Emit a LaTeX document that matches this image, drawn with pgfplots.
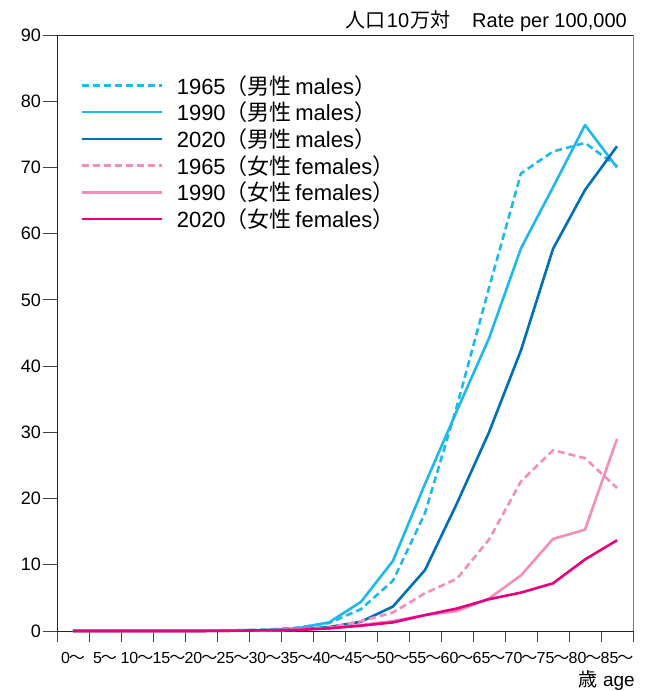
\documentclass[border=0pt]{standalone}
\usepackage{fontspec}
\setmainfont{Liberation Sans}
\newfontfamily\cjk{Noto Sans CJK JP}
\usepackage{pgfplots}
\pgfplotsset{compat=1.18}
\definecolor{cyanL}{RGB}{30,184,235}
\definecolor{blueD}{RGB}{0,110,184}
\definecolor{pinkL}{RGB}{243,142,187}
\definecolor{magentaD}{RGB}{230,0,126}
\newcommand{\tl}[1]{#1{\cjk\hspace{-1pt}～}}
\begin{document}
\begin{tikzpicture}
\path[use as bounding box] (-57pt,-60pt) rectangle (593pt,631pt);
\begin{axis}[
  scale only axis, width=576pt, height=596pt,
  xmin=-0.5, xmax=17.5, ymin=0, ymax=90,
  clip=false,
  xtick={0,...,17},
  xticklabels={\tl{0},\tl{5},\tl{10},\tl{15},\tl{20},\tl{25},\tl{30},\tl{35},\tl{40},\tl{45},\tl{50},\tl{55},\tl{60},\tl{65},\tl{70},\tl{75},\tl{80},\tl{85}},
  minor xtick={-0.5,0.5,...,17.5},
  ytick={0,10,...,90},
  tick align=outside, xtick pos=bottom, ytick pos=left,
  major x tick style={draw=none},
  minor tick length=11pt, major tick length=14pt,
  axis line style={line width=0.8pt, black!85},
  tick style={line width=0.8pt, black!75},
  /pgf/number format/assume math mode=true,
  yticklabel style={font=\fontsize{18}{18}\selectfont, inner sep=2pt},
  xticklabel style={font=\fontsize{16}{16}\selectfont, inner sep=0pt, anchor=base, yshift=-18pt},
  legend style={draw=none, fill=none, at={(rel axis cs:0,1)}, anchor=north west,
    xshift=23pt, yshift=-39pt, font=\fontsize{22}{22}\selectfont,
    row sep=4.4pt, inner sep=0pt, nodes={inner sep=1pt, anchor=west}},
  legend cell align=left,
  legend image code/.code={\draw[#1] (0pt,0pt) -- (80pt,0pt); \path (93pt,0pt);},
  every axis plot/.append style={line width=2.6pt, line join=round},
]
\addplot[cyanL, dash pattern=on 7pt off 4pt] coordinates {
(0,0.05)(1,0.05)(2,0.05)(3,0.05)(4,0.05)(5,0.1)(6,0.2)(7,0.5)(8,1.2)(9,3.3)(10,7.6)(11,17.8)(12,34.0)(13,51.8)(14,69.1)(15,72.4)(16,73.7)(17,70.2)};
\addlegendentry{1965{\cjk（男性}\,males{\cjk）}}
\addplot[cyanL] coordinates {
(0,0.05)(1,0.05)(2,0.05)(3,0.05)(4,0.05)(5,0.1)(6,0.15)(7,0.4)(8,1.3)(9,4.4)(10,10.6)(11,22.2)(12,33.3)(13,44.2)(14,57.8)(15,67.0)(16,76.4)(17,70.0)};
\addlegendentry{1990{\cjk（男性}\,males{\cjk）}}
\addplot[blueD] coordinates {
(0,0)(1,0)(2,0)(3,0)(4,0)(5,0.05)(6,0.1)(7,0.2)(8,0.6)(9,1.4)(10,3.7)(11,9.2)(12,19.3)(13,30.0)(14,42.4)(15,57.7)(16,66.6)(17,73.2)};
\addlegendentry{2020{\cjk（男性}\,males{\cjk）}}
\addplot[pinkL, dash pattern=on 7pt off 4pt] coordinates {
(0,0)(1,0)(2,0)(3,0)(4,0)(5,0.05)(6,0.1)(7,0.2)(8,0.5)(9,1.5)(10,2.8)(11,5.7)(12,7.9)(13,13.8)(14,22.6)(15,27.3)(16,26.1)(17,21.6)};
\addlegendentry{1965{\cjk（女性}\,females{\cjk）}}
\addplot[pinkL] coordinates {
(0,0)(1,0)(2,0)(3,0)(4,0)(5,0.05)(6,0.1)(7,0.2)(8,0.4)(9,0.9)(10,1.5)(11,2.4)(12,3.0)(13,4.9)(14,8.4)(15,13.9)(16,15.3)(17,29.0)};
\addlegendentry{1990{\cjk（女性}\,females{\cjk）}}
\addplot[magentaD] coordinates {
(0,0)(1,0)(2,0)(3,0)(4,0)(5,0.05)(6,0.1)(7,0.15)(8,0.4)(9,0.8)(10,1.3)(11,2.4)(12,3.4)(13,4.8)(14,5.8)(15,7.2)(16,10.8)(17,13.7)};
\addlegendentry{2020{\cjk（女性}\,females{\cjk）}}
\draw[gray, line width=1pt] (rel axis cs:1,0) -- (rel axis cs:1,1);
\node[anchor=base east, font=\fontsize{20}{20}\selectfont, inner sep=0pt] at ([xshift=-6pt,yshift=7pt]rel axis cs:1,1) {{\cjk 人口}\hspace{1pt}10\hspace{1pt}{\cjk 万対}\hspace{22pt}Rate per 100,000};
\node[anchor=base east, font=\fontsize{19}{19}\selectfont, inner sep=0pt] at ([xshift=2pt,yshift=-55pt]rel axis cs:1,0) {{\cjk 歳} age};
\end{axis}
\end{tikzpicture}
\end{document}
